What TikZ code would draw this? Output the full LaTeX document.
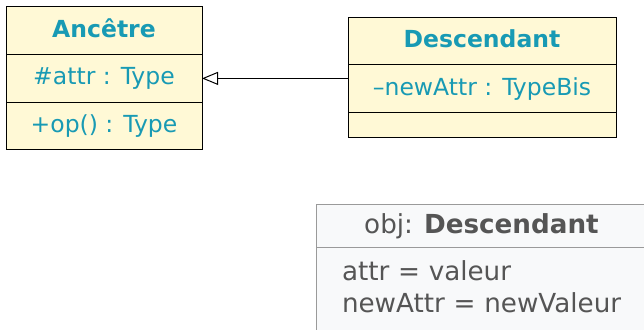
\documentclass[tikz,border=0pt]{standalone}
\usepackage{fontspec}
\setmainfont{DejaVu Sans}
\usetikzlibrary{arrows.meta, positioning}
\definecolor{clsink}{HTML}{189AB4}
\definecolor{clsfill}{HTML}{FFF9D6}
\definecolor{objink}{HTML}{555555}
\definecolor{objline}{HTML}{9A9A9A}
\definecolor{objfill}{HTML}{F8F9FA}
\tikzset{
  clsrow/.style={draw=black, line width=0.5pt, fill=clsfill, text=clsink, inner sep=0pt, outer sep=0pt,
    anchor=north, minimum height=23.8pt, font=\fontsize{11.75}{14}\selectfont},
  clstitle/.style={clsrow, text depth=2.5pt, font=\fontsize{11.75}{14}\selectfont\bfseries},
  objrow/.style={draw=objline, line width=0.5pt, fill=objfill, text=objink, inner sep=0pt, outer sep=0pt,
    anchor=north, minimum width=165.5pt, font=\fontsize{13.1}{15.7}\selectfont},
  gen/.style={draw=black, line width=0.5pt, -{Triangle[open, length=8pt, width=6.5pt]}}
}

\begin{document}
\begin{tikzpicture}[x=0.5pt, y=-0.5pt]
  \useasboundingbox (0,0) rectangle (644,330);
  % ancetre
  \node[clstitle, minimum width=98pt] (anc title) at (104,7) {Ancêtre};
  \node[clsrow, minimum width=98pt, below=0pt of anc title] (anc attr) {\#attr : Type};
  \node[clsrow, minimum width=98pt, below=0pt of anc attr] (anc op) {+op() : Type};
  % descendant
  \node[clstitle, minimum width=134pt, minimum height=23.5pt] (desc title) at (482,18) {Descendant};
  \node[clsrow, minimum width=134pt, minimum height=24pt, below=0pt of desc title] (desc attr) {--newAttr : TypeBis};
  \node[clsrow, minimum width=134pt, minimum height=12.5pt, below=0pt of desc attr] (desc op) {};
  \draw[gen] (desc attr.west |- anc attr.east) -- (anc attr.east);
  % objet
  \node[objrow, minimum height=21.5pt] (obj title) at (481.5,205) {obj: \textbf{Descendant}};
  \node[objrow, anchor=north west, text width=160pt, inner xsep=13pt, inner ysep=6.5pt, align=left]
    at (obj title.south west) (obj body) {attr = valeur\\newAttr = newValeur\\[20pt]\mbox{}};
\end{tikzpicture}
\end{document}
